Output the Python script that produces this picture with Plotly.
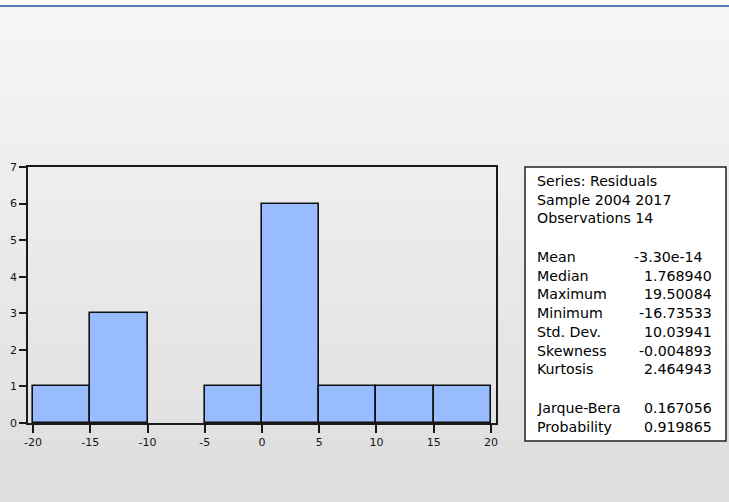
import plotly.graph_objects as go

# Histogram of residuals: bin edges and counts
bin_edges = [-20, -15, -10, -5, 0, 5, 10, 15, 20]
counts = [1, 3, 0, 1, 6, 1, 1, 1]

x_ticks = [-20, -15, -10, -5, 0, 5, 10, 15, 20]
x_tick_text = ["-20", "-15", "-10", "-5", "0", "5", "10", "15", "20"]
y_ticks = [0, 1, 2, 3, 4, 5, 6, 7]

# Summary statistics panel
header_lines = ["Series: Residuals", "Sample 2004 2017", "Observations 14"]
stat_labels = ["Mean", "Median", "Maximum", "Minimum", "Std. Dev.", "Skewness", "Kurtosis"]
stat_values = ["-3.30e-14", "1.768940", "19.50084", "-16.73533", "10.03941", "-0.004893", "2.464943"]
test_labels = ["Jarque-Bera", "Probability"]
test_values = ["0.167056", "0.919865"]

W, H = 729, 502


def px(x):
    return x / W


def py(y):
    return 1 - y / H


centers = [(a + b) / 2 for a, b in zip(bin_edges[:-1], bin_edges[1:])]
widths = [b - a for a, b in zip(bin_edges[:-1], bin_edges[1:])]
# empty bins get no outline
outline_w = [1.6 if c > 0 else 0 for c in counts]

fig = go.Figure()
fig.add_trace(go.Bar(
    x=centers, y=counts, width=widths,
    marker=dict(color="#99bbff", line=dict(color="#111111", width=outline_w)),
    hoverinfo="skip",
))

shapes = []
# window background: soft vertical gradient
n_bands = 120
top, bottom = 7, H + 10
c0, c1 = 246, 221
for i in range(n_bands):
    y0 = top + (bottom - top) * i / n_bands
    y1 = top + (bottom - top) * (i + 1) / n_bands + 0.5
    g = round(c0 + (c1 - c0) * (i + 0.5) / n_bands)
    shapes.append(dict(type="rect", xref="paper", yref="paper",
                       x0=-0.05, x1=1.05, y0=py(y1), y1=py(y0),
                       fillcolor=f"rgb({g},{g},{g})", line=dict(width=0),
                       layer="below"))
shapes.append(dict(type="rect", xref="paper", yref="paper", x0=-0.05, x1=1.05,
                   y0=py(5), y1=1.05, fillcolor="white", line=dict(width=0),
                   layer="below"))
shapes.append(dict(type="rect", xref="paper", yref="paper", x0=-0.05, x1=1.05,
                   y0=py(7), y1=py(5), fillcolor="#5b7bb0", line=dict(width=0),
                   layer="below"))
# statistics box
shapes.append(dict(type="rect", xref="paper", yref="paper",
                   x0=px(525), x1=px(726), y0=py(441), y1=py(167),
                   fillcolor="white", line=dict(color="#222222", width=1.5),
                   layer="below"))

annotations = []
font = dict(family="DejaVu Sans, Arial, sans-serif", size=14.2, color="#000000")
lab_x, val_x = 535, 714


def add_left(text, y):
    annotations.append(dict(text=text, x=px(lab_x), y=py(y), xref="paper", yref="paper",
                            xanchor="left", yanchor="middle", showarrow=False, font=font))


def add_right(text, y, x=val_x):
    annotations.append(dict(text=text, x=px(x), y=py(y), xref="paper", yref="paper",
                            xanchor="right", yanchor="middle", showarrow=False, font=font))


for i, t in enumerate(header_lines):
    add_left(t, 181 + i * 18.5)
for i, (l, v) in enumerate(zip(stat_labels, stat_values)):
    add_left(l, 257 + i * 18.7)
    add_right(v, 257 + i * 18.7, val_x - 9 if i == 0 else val_x)
for i, (l, v) in enumerate(zip(test_labels, test_values)):
    add_left(l, 408 + i * 19)
    add_right(v, 408 + i * 19)

axis_common = dict(showline=True, linecolor="#1a1a1a", linewidth=1.5, mirror=True,
                   showgrid=False, zeroline=False, ticks="outside", tickcolor="#1a1a1a",
                   tickwidth=1.5, automargin=False,
                   tickfont=dict(family="DejaVu Sans, Arial, sans-serif", size=11,
                                 color="#151515"))

fig.update_layout(
    template="none",
    width=W, height=H,
    margin=dict(l=0, r=0, t=0, b=0, pad=0),
    paper_bgcolor="#e9e9e9", plot_bgcolor="white",
    showlegend=False, bargap=0,
    xaxis=dict(domain=[px(28), px(496)], range=[-20.44, 20.44],
               tickvals=x_ticks, ticktext=x_tick_text, ticklen=8, **axis_common),
    yaxis=dict(domain=[py(423), py(167)], range=[0, 7],
               tickvals=y_ticks, ticklen=7, **axis_common),
    shapes=shapes, annotations=annotations,
)

fig.write_html("out.html")
